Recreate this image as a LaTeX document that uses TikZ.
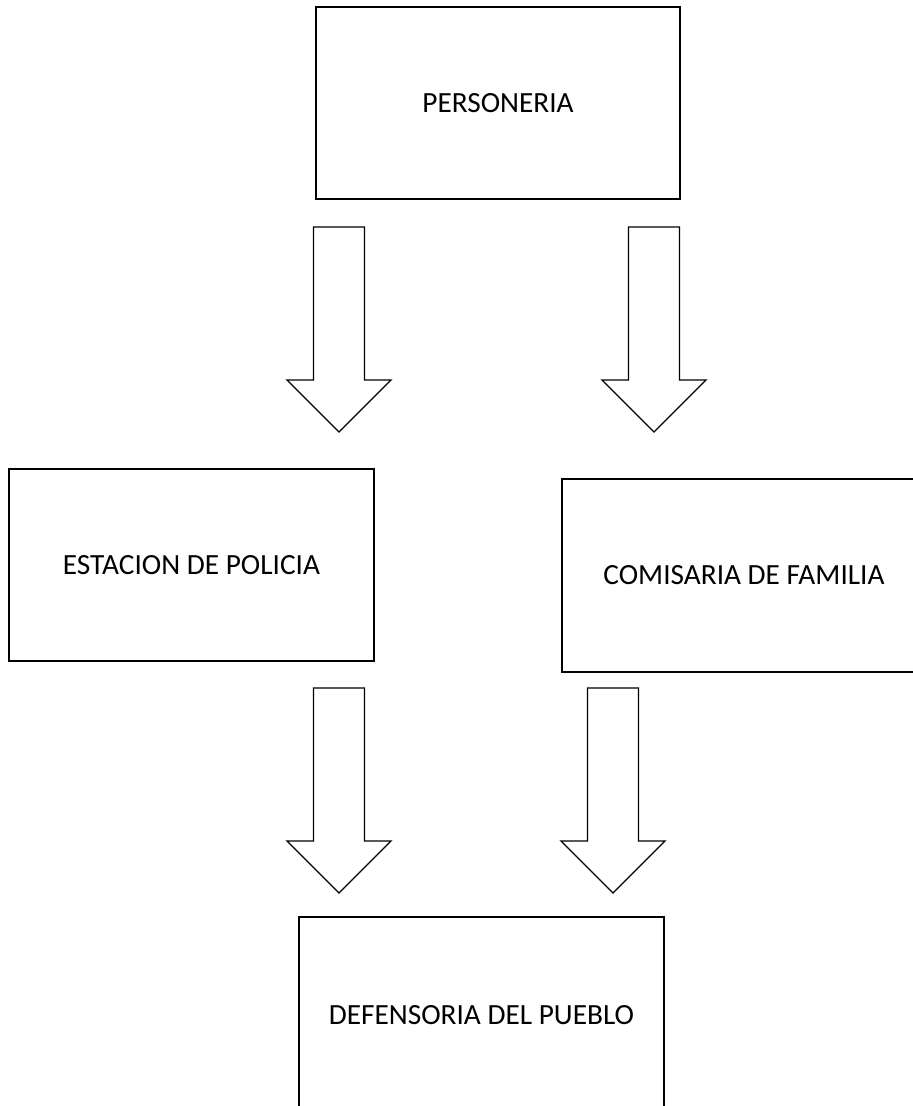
\documentclass[tikz,border=0pt]{standalone}
\usepackage{fontspec}
\setmainfont{Carlito}
\begin{document}
\begin{tikzpicture}[x=1pt,y=-1pt,
  orgbox/.style={draw=black,line width=2pt,fill=white,rectangle,inner sep=0pt,
    font=\fontsize{29.3}{34}\selectfont,text=black},
  blockarrow/.style={draw=black,line width=1.3pt,fill=white,line join=miter}]
\useasboundingbox (0,0) rectangle (913,1106);
\clip (0,0) rectangle (913,1106);
\node[orgbox,minimum width=364pt,minimum height=192pt] (pers) at (498,103) {PERSONERIA};
\node[orgbox,minimum width=365pt,minimum height=192pt] (est) at (191.5,565) {ESTACION DE POLICIA};
\node[orgbox,minimum width=364pt,minimum height=193pt] (com) at (744,575.5) {COMISARIA DE FAMILIA};
\node[orgbox,minimum width=365pt,minimum height=196pt] (def) at (481.5,1015) {DEFENSORIA DEL PUEBLO};
% block arrows: top centre, shaft half-width 25.5, shoulder +153, head half-width 52, tip +205
\coordinate (a1) at (339,227);
\coordinate (a2) at (654,227);
\coordinate (a3) at (339,688);
\coordinate (a4) at (613,688);
\foreach \a in {a1,a2,a3,a4}{
  \draw[blockarrow] ([xshift=-25.5pt]\a) -- ([xshift=25.5pt]\a)
    -- ([xshift=25.5pt,yshift=-153pt]\a) -- ([xshift=52pt,yshift=-153pt]\a)
    -- ([yshift=-205pt]\a) -- ([xshift=-52pt,yshift=-153pt]\a)
    -- ([xshift=-25.5pt,yshift=-153pt]\a) -- cycle;
}
\end{tikzpicture}
\end{document}
